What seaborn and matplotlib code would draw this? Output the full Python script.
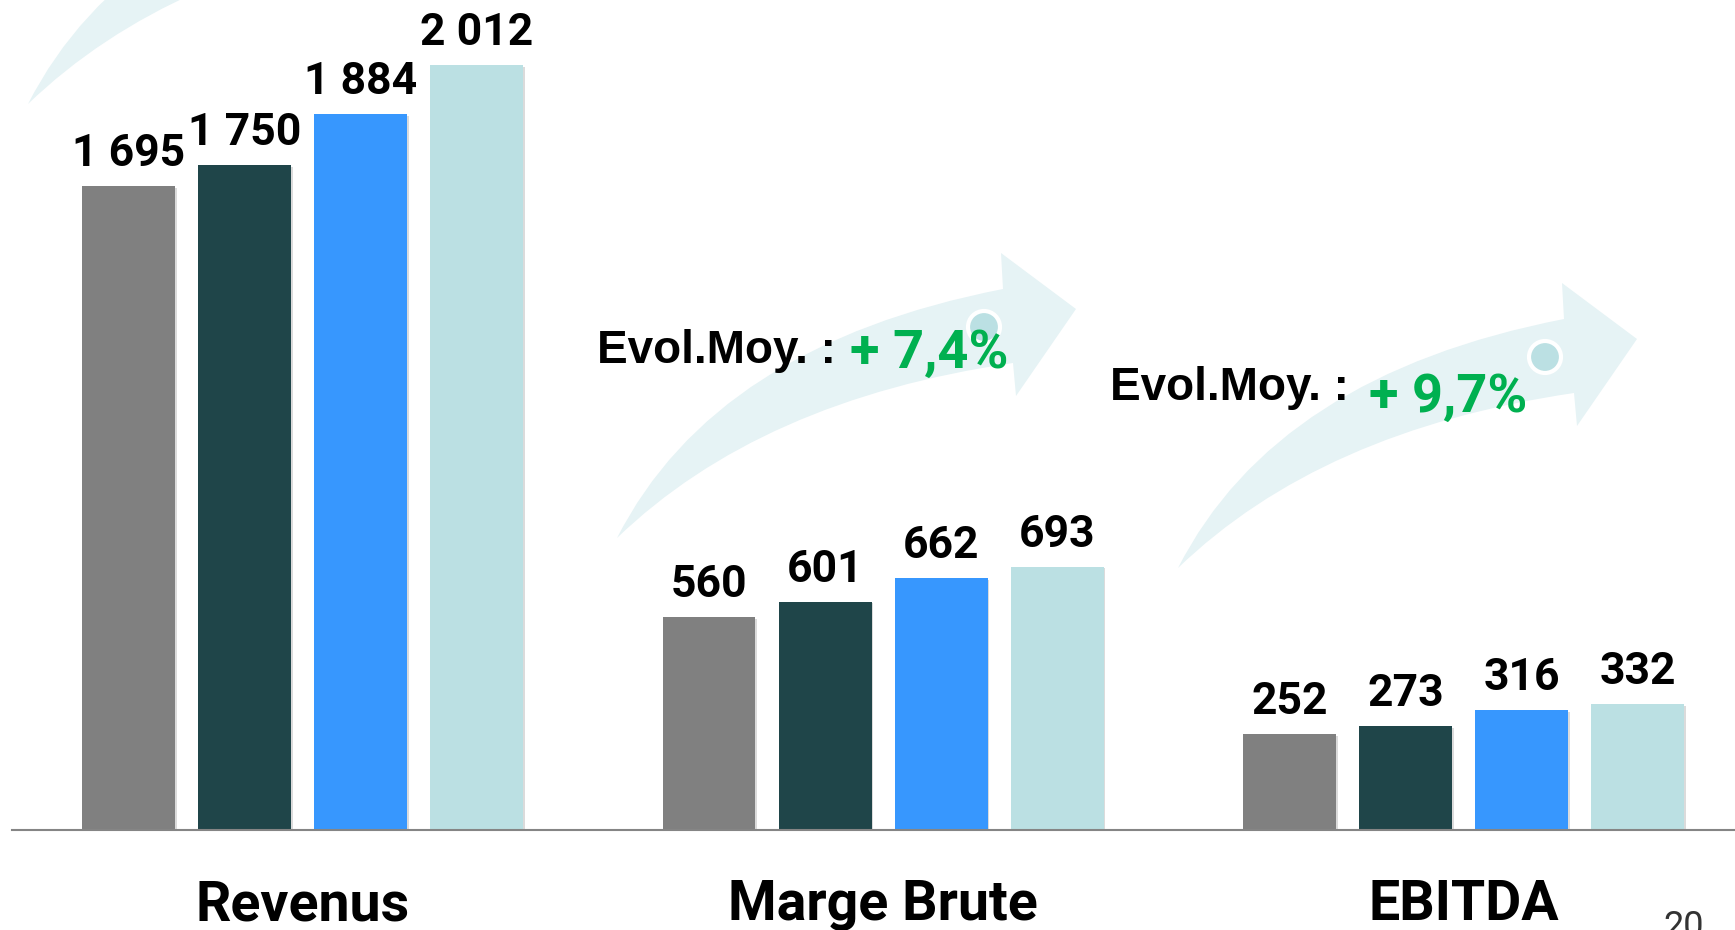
import numpy as np
import pandas as pd
import matplotlib
matplotlib.use("Agg")
import matplotlib.pyplot as plt
import seaborn as sns
from matplotlib.path import Path
from matplotlib.patches import PathPatch, Circle
from matplotlib.transforms import Affine2D
import matplotlib.patheffects as pe

# ---------------- data ----------------
categories = ["Revenus", "Marge Brute", "EBITDA"]
periods = ["P1", "P2", "P3", "P4"]
vals_p1 = [1695, 560, 252]
vals_p2 = [1750, 601, 273]
vals_p3 = [1884, 662, 316]
vals_p4 = [2012, 693, 332]
growth_prefix = "Evol.Moy. :"
growth_labels = ["+ 7,4%", "+ 9,7%"]
page_number = "20"
colors = ["#808080", "#1F4549", "#3797FE", "#BBE0E3"]

df = pd.DataFrame({
    "Catégorie": categories * 4,
    "Période": np.repeat(periods, len(categories)),
    "Valeur": vals_p1 + vals_p2 + vals_p3 + vals_p4,
})

sns.set_theme(style="white")
plt.rcParams["font.family"] = ["Roboto", "DejaVu Sans"]

W, H = 1735, 930
fig = plt.figure(figsize=(W / 100, H / 100), dpi=100)
fig.patch.set_facecolor("white")
px = Affine2D().scale(1 / W, -1 / H).translate(0, 1) + fig.transFigure

# ---------------- decorative arrows ----------------
ARROW_COLOR = "#E6F3F5"


def add_arrow(dx, dy):
    base = [(617, 538), (715, 345), (1003, 289), (1001, 253), (1076, 309),
            (1016, 396), (1013, 363), (760, 400), (617, 538), (617, 538)]
    codes = [Path.MOVETO, Path.CURVE3, Path.CURVE3, Path.LINETO, Path.LINETO,
             Path.LINETO, Path.LINETO, Path.CURVE3, Path.CURVE3, Path.CLOSEPOLY]
    verts = [(x + dx, y + dy) for x, y in base]
    patch = PathPatch(Path(verts, codes), facecolor=ARROW_COLOR, edgecolor="none",
                      transform=px, zorder=-2)
    fig.patches.append(patch)


add_arrow(-589, -434)
add_arrow(0, 0)
add_arrow(561, 30)

for cx, cy in [(984, 327), (1545, 357)]:
    fig.patches.append(Circle((cx, cy), 16, facecolor="#BBE0E3", edgecolor="white",
                              linewidth=3, transform=px, zorder=-1))

# ---------------- bars ----------------
unit_px = 580.5
ax_left = 12.4
ax = fig.add_axes([ax_left / W, 100 / H, 3 * unit_px / W, 830 / H])
ax.patch.set_visible(False)

sns.barplot(data=df, x="Catégorie", y="Valeur", hue="Période", palette=colors,
            width=0.8, gap=0.2, saturation=1, legend=False, linewidth=0, ax=ax)

shadow = [pe.SimplePatchShadow(offset=(1.2, -1.2), shadow_rgbFace="#888888", alpha=0.3),
          pe.Normal()]
for cont in ax.containers:
    for bar in cont:
        bar.set_path_effects(shadow)
        v = bar.get_height()
        ax.annotate(f"{int(round(v)):,}".replace(",", " "),
                    (bar.get_x() + bar.get_width() / 2, v),
                    xytext=(0, 14.4), textcoords="offset points",
                    ha="center", va="baseline", fontsize=32, fontweight="bold",
                    color="black")

ax.set_xlim(-0.5, 2.5)
ax.set_ylim(0, 830 / 0.38)
ax.set_xlabel("")
ax.set_ylabel("")
ax.set_yticks([])
ax.set_xticks(range(len(categories)))
ax.set_xticklabels(categories, fontsize=40, fontweight="bold", va="baseline",
                   color="black")
ax.tick_params(axis="x", length=0, pad=65)
for s in ["top", "left", "right"]:
    ax.spines[s].set_visible(False)
ax.spines["bottom"].set_color("#858585")
ax.spines["bottom"].set_linewidth(1.5)

# ---------------- annotations ----------------
for (bx, by), (gx, gy), lab in zip([(597, 363), (1110, 400)],
                                   [(850, 368), (1369, 412)], growth_labels):
    fig.text(bx / W, 1 - by / H, growth_prefix, family=["Liberation Sans", "DejaVu Sans"],
             fontweight="bold", fontsize=33, va="baseline", ha="left", color="black")
    fig.text(gx / W, 1 - gy / H, lab, fontweight="bold", fontsize=39,
             va="baseline", ha="left", color="#00B050")

fig.text(1663 / W, -7 / H, page_number, fontsize=26, va="baseline", ha="left",
         color="#333333")

fig.savefig("out.png", dpi=100)
